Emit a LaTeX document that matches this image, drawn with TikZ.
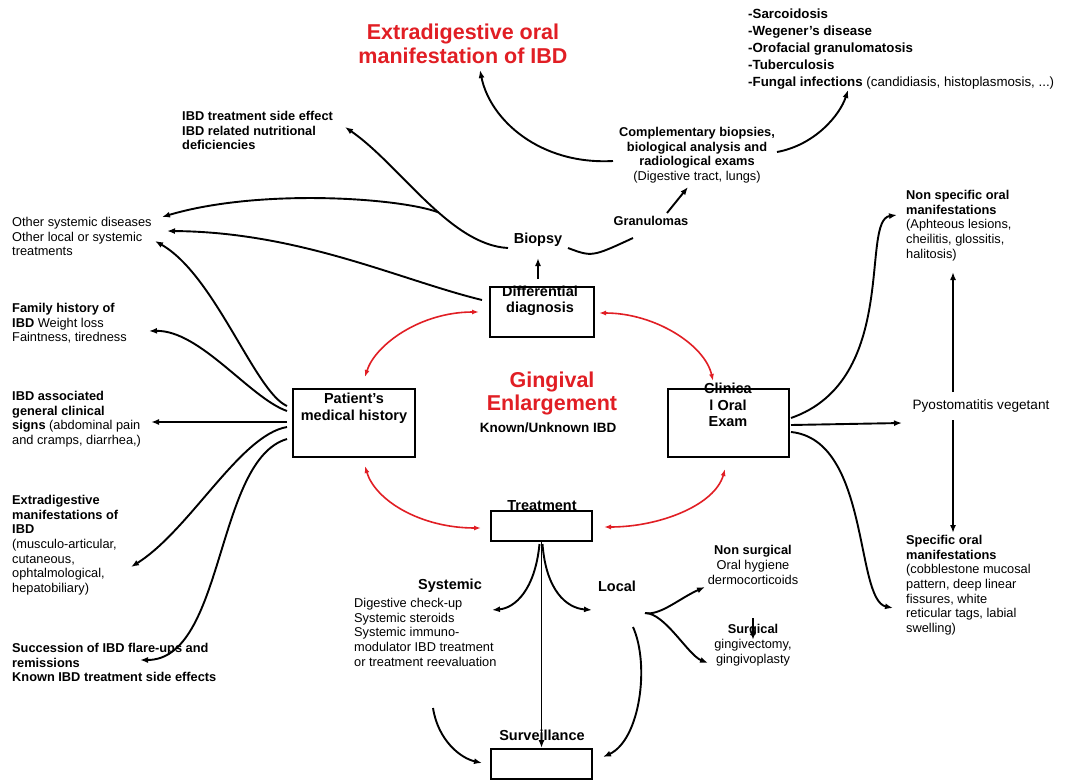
\documentclass[tikz,border=0pt]{standalone}
\usepackage{fontspec}
\setmainfont{Liberation Sans}
\usetikzlibrary{arrows.meta}
\definecolor{gered}{RGB}{225,30,36}

\begin{document}
\begin{tikzpicture}[x=1pt,y=-1pt,
  txt/.style={font=\fontsize{12.8}{14.7}\selectfont, align=left, anchor=north west, inner sep=0pt},
  btxt/.style={txt, font=\bfseries\fontsize{12.8}{14.7}\selectfont},
  lst/.style={font=\bfseries\fontsize{13.3}{16.8}\selectfont, align=left, anchor=north west, inner sep=0pt},
  mid/.style={font=\bfseries\fontsize{14.5}{16.5}\selectfont, align=center, inner sep=0pt},
  big/.style={text=gered, font=\bfseries\fontsize{21.5}{23.5}\selectfont, align=center, inner sep=0pt},
  box/.style={draw, line width=2pt, inner sep=0pt},
  arr/.style={-{Latex[length=8pt,width=6pt]}, line width=1.9pt},
  rarr/.style={{Latex[length=7pt,width=5pt]}-{Latex[length=7pt,width=5pt]}, gered, line width=1.6pt}]
\fill[white] (0,0) rectangle (1076,781);
\useasboundingbox (0,0) rectangle (1076,781);

\node[box, minimum width=104pt, minimum height=50pt] (dd) at (542,312) {};
\node[box, minimum width=122pt, minimum height=68pt] (pmh) at (354,423) {};
\node[box, minimum width=121pt, minimum height=68pt] (coe) at (728.5,423) {};
\node[box, minimum width=101pt, minimum height=30pt] (trt) at (541.5,526) {};
\node[box, minimum width=101pt, minimum height=30pt] (srv) at (541.5,764) {};
\node[mid] (dd-t) at (540,301) {Differential\\diagnosis};
\node[mid] (pmh-t) at (354,408) {Patient's\\medical history};
\node[mid] (coe-t) at (728,405) {Clinica\\l Oral\\Exam};
\node[mid] (trt-t) at (542,506) {Treatment};
\node[mid] (srv-t) at (542,735) {Surveillance};

\node[big] (ttl) at (463,44) {Extradigestive oral\\manifestation of IBD};
\node[big] (ge) at (552,393.5) {Gingival\\Enlargement};
\node[mid, font=\bfseries\fontsize{13.5}{16}\selectfont] (ku) at (548,428) {Known/Unknown IBD};

\node[lst] (sar) at (748,9) {-Sarcoidosis\\-Wegener's disease\\-Orofacial granulomatosis\\-Tuberculosis\\-Fungal infections \mdseries(candidiasis, histoplasmosis, ...)};
\node[btxt] (ibdt) at (182,111) {IBD treatment side effect\\IBD related nutritional\\deficiencies};
\node[txt, anchor=north, align=center] (cmp) at (697,127) {\textbf{Complementary biopsies,}\\\textbf{biological analysis and}\\\textbf{radiological exams}\\(Digestive tract, lungs)};
\node[btxt, anchor=center] (gra) at (651,221) {Granulomas};
\node[mid] (bio) at (538,240) {Biopsy};

\node[txt] (osd) at (12,217) {Other systemic diseases\\Other local or systemic\\treatments};
\node[txt] (fam) at (12,303) {\textbf{Family history of}\\\textbf{IBD} Weight loss\\Faintness, tiredness};
\node[txt] (ibda) at (12,391) {\textbf{IBD associated}\\\textbf{general clinical}\\\textbf{signs} (abdominal pain\\and cramps, diarrhea,)};
\node[txt] (exm) at (12,495) {\textbf{Extradigestive}\\\textbf{manifestations of}\\\textbf{IBD}\\(musculo-articular,\\cutaneous,\\ophtalmological,\\hepatobiliary)};
\node[btxt] (suc) at (12,643) {Succession of IBD flare-ups and\\remissions\\Known IBD treatment side effects};

\node[txt] (nsp) at (906,190) {\textbf{Non specific oral}\\\textbf{manifestations}\\(Aphteous lesions,\\cheilitis, glossitis,\\halitosis)};
\node[txt, anchor=center, font=\fontsize{13.6}{16}\selectfont] (pyo) at (981,406) {Pyostomatitis vegetant};
\node[txt] (spc) at (906,535) {\textbf{Specific oral}\\\textbf{manifestations}\\(cobblestone mucosal\\pattern, deep linear\\fissures, white\\reticular tags, labial\\swelling)};

\node[mid] (sys) at (450,586) {Systemic};
\node[txt] (sysl) at (354,598) {Digestive check-up\\Systemic steroids\\Systemic immuno-\\modulator IBD treatment\\or treatment reevaluation};
\node[mid] (loc) at (617,586) {Local};
\node[txt, anchor=center, align=center] (nsg) at (753,565) {\textbf{Non surgical}\\Oral hygiene\\dermocorticoids};
\node[txt, anchor=center, align=center] (sg) at (753,645) {\textbf{Surgical}\\gingivectomy,\\gingivoplasty};

\coordinate (fork) at (645,613);
\coordinate (sys-out) at (433,708);
\coordinate (loc-out) at (633,627);

\draw[rarr] ([shift={(-10,0)}]dd.west) .. controls (420,312) and (375,345) .. ([shift={(11,-11)}]pmh.north);
\draw[rarr] ([shift={(4,1)}]dd.east) .. controls (655,313) and (705,345) .. ([shift={(-15.5,-7)}]coe.north);
\draw[rarr] ([shift={(11,8)}]pmh.south) .. controls (375,500) and (420,528) .. ([shift={(-9,2)}]trt.west);
\draw[rarr] ([shift={(-3.5,11)}]coe.south) .. controls (715,505) and (660,527) .. ([shift={(11,1)}]trt.east);

\draw[arr] ([shift={(-4,-7)}]dd.north) -- ([shift={(0,18)}]bio.center);
\draw[arr] ([shift={(-30,8)}]bio.center) .. controls (450,245) and (400,165) .. ([shift={(163,16)}]ibdt.north west) coordinate[pos=0.42] (br);
\draw[arr] (br) .. controls (400,198) and (260,188) .. ([shift={(150,0)}]osd.north west);
\draw[arr] ([shift={(-7,-12)}]dd.west) .. controls (400,280) and (300,232) .. ([shift={(155,14)}]osd.north west);
\draw[line width=1.9pt] ([shift={(30,8)}]bio.center) .. controls (592,257) .. ([shift={(-18,17)}]gra.center);
\draw[arr] ([shift={(16,-8)}]gra.center) -- ([shift={(-9,60)}]cmp.north);
\draw[arr] ([shift={(-84,34)}]cmp.north) .. controls (540,165) and (490,120) .. ([shift={(17,26)}]ttl.center);
\draw[arr] ([shift={(80,25)}]cmp.north) .. controls (815,145) and (840,115) .. ([shift={(100,81)}]sar.north west);

\draw[arr] ([shift={(-5,-17)}]pmh.west) .. controls (255,392) and (215,275) .. ([shift={(143,24)}]osd.north west);
\draw[arr] ([shift={(-5,-12)}]pmh.west) .. controls (250,398) and (200,330) .. ([shift={(137,28)}]fam.north west);
\draw[arr] ([shift={(-5,-1)}]pmh.west) -- ([shift={(139,31)}]ibda.north west);
\draw[arr] ([shift={(-5,4)}]pmh.west) .. controls (240,435) and (190,530) .. ([shift={(119,72)}]exm.north west);
\draw[arr] ([shift={(-5,16)}]pmh.west) .. controls (215,460) and (225,660) .. ([shift={(128,17)}]suc.north west);

\draw[arr] ([shift={(1,-5)}]coe.east) .. controls (900,380) and (860,220) .. ([shift={(-9,25)}]nsp.north west);
\draw[arr] ([shift={(1,2)}]coe.east) -- ([shift={(-79,17)}]pyo.center);
\draw[arr] ([shift={(1,9)}]coe.east) .. controls (870,440) and (855,600) .. ([shift={(-13,73)}]spc.north west);
\draw[arr] ([shift={(-28,-14)}]pyo.center) -- ([shift={(47,82)}]nsp.north west);
\draw[arr] ([shift={(-28,14)}]pyo.center) -- ([shift={(47,-2)}]spc.north west);

\draw[arr] (trt.south) -- (srv.north);
\draw[arr] ([shift={(-2,2)}]trt.south) .. controls (535,590) and (515,608) .. ([shift={(42,24)}]sys.center);
\draw[arr] ([shift={(1,2)}]trt.south) .. controls (546,590) and (566,608) .. ([shift={(-25,24)}]loc.center);
\draw[arr] (fork) .. controls (660,616) and (680,598) .. ([shift={(-48,22)}]nsg.center);
\draw[arr] (fork) .. controls (665,613) and (688,655) .. ([shift={(-45,18)}]sg.center);
\draw[arr] ([shift={(0,53)}]nsg.center) -- ([shift={(0,-5)}]sg.center);
\draw[arr] (sys-out) .. controls (438,740) and (460,758) .. ([shift={(-8,-1)}]srv.west);
\draw[arr] (loc-out) .. controls (650,665) and (640,740) .. ([shift={(10,-7)}]srv.east);
\end{tikzpicture}
\end{document}
